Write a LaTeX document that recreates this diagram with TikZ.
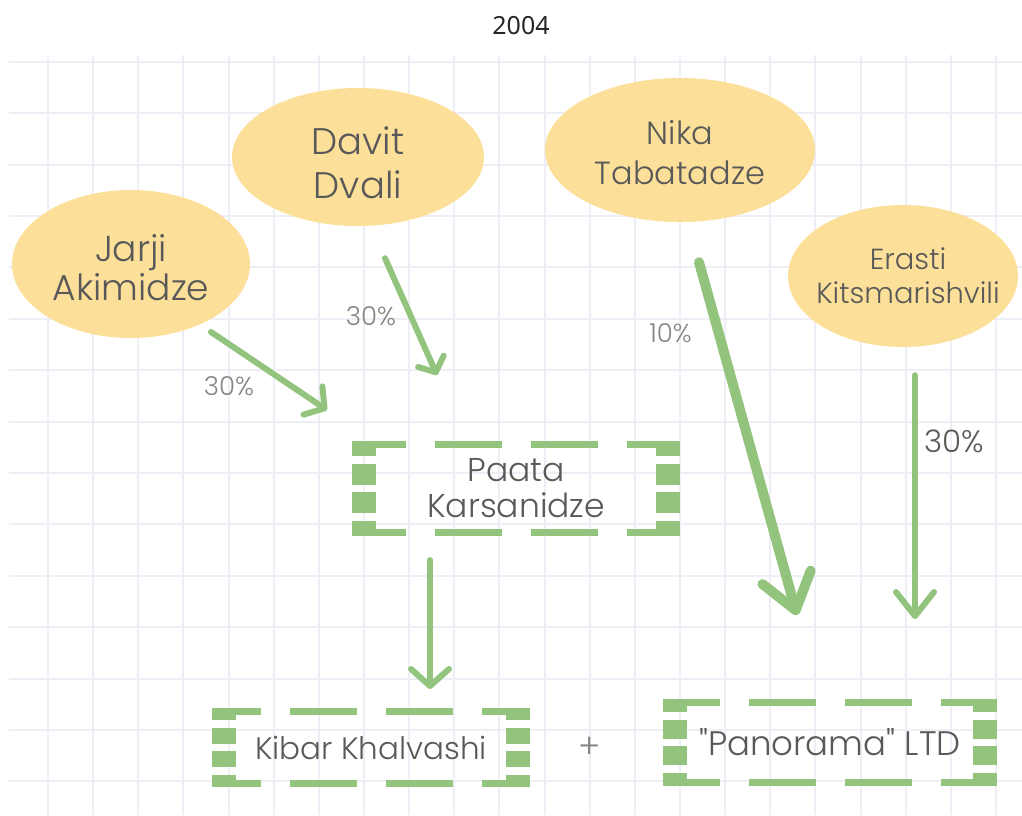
\documentclass[tikz,border=0pt]{standalone}
\usepackage{fontspec}
\IfFontExistsTF{Poppins Light}{\setmainfont{Poppins Light}}{%
  \IfFontExistsTF{Poppins-Light}{\setmainfont{Poppins-Light}}{\setmainfont{Poppins}}}
\newfontfamily\titlefont{Noto Sans}
\usetikzlibrary{arrows.meta, shapes.geometric}

\definecolor{petal}{HTML}{FCDF99}
\definecolor{leaf}{HTML}{93C47D}
\definecolor{gridline}{HTML}{EEEEF7}
\definecolor{ink}{HTML}{595959}
\definecolor{softink}{HTML}{858585}

\tikzset{
  person/.style={ellipse, fill=petal, inner sep=0pt},
  names/.style={align=center, text=ink, inner sep=0pt},
  holder/.style={rectangle, inner sep=0pt, outer sep=0pt, align=center, text=ink},
  frameh/.style={draw=leaf, line width=7pt, dash pattern=on 67pt off 29pt, dash phase=81.5pt},
  framev/.style={draw=leaf, line width=24pt},
  flow/.style={draw=leaf, line width=6pt, line cap=round},
  vhead/.style 2 args={-{Straight Barb[round, length=#1, width=#2]}},
  pct/.style={text=softink, inner sep=0pt, font=\fontsize{26}{28}\selectfont},
}

% dashed green frame round a holder node; #2 = dash length of the sides
\newcommand\greenframe[2]{%
  \pgfmathsetmacro\vphase{#2+3.75}
  \draw[frameh] ([yshift=-3.5pt]#1.north) -- ([yshift=-3.5pt]#1.north west);
  \draw[frameh] ([yshift=-3.5pt]#1.north) -- ([yshift=-3.5pt]#1.north east);
  \draw[frameh] ([yshift=3.5pt]#1.south) -- ([yshift=3.5pt]#1.south west);
  \draw[frameh] ([yshift=3.5pt]#1.south) -- ([yshift=3.5pt]#1.south east);
  \draw[framev, dash pattern=on #2pt off 7.5pt, dash phase=\vphase pt] ([xshift=12pt]#1.west) -- ([xshift=12pt]#1.north west);
  \draw[framev, dash pattern=on #2pt off 7.5pt, dash phase=\vphase pt] ([xshift=12pt]#1.west) -- ([xshift=12pt]#1.south west);
  \draw[framev, dash pattern=on #2pt off 7.5pt, dash phase=\vphase pt] ([xshift=-12pt]#1.east) -- ([xshift=-12pt]#1.north east);
  \draw[framev, dash pattern=on #2pt off 7.5pt, dash phase=\vphase pt] ([xshift=-12pt]#1.east) -- ([xshift=-12pt]#1.south east);
}

\begin{document}
\begin{tikzpicture}[x=1pt, y=-1pt]
  \useasboundingbox (0,0) rectangle (1022,815);

  % squared paper
  \foreach \i in {0,...,21}
    \draw[gridline, line width=2pt] (48+45.14*\i, 55) -- (48+45.14*\i, 815);
  \foreach \j in {0,...,14}
    \draw[gridline, line width=2pt] (9, 61.7+51.4*\j) -- (1022, 61.7+51.4*\j);

  \node[font=\titlefont\fontsize{25}{28}\selectfont, text=black!85] (title) at (521,26) {2004};

  % owners
  \node[person, minimum width=238pt, minimum height=148pt,
        label={[names, yshift=-4pt, font=\fontsize{36}{39}\selectfont]center:Jarji\\Akimidze}] (jarji) at (131,264) {};
  \node[person, minimum width=252pt, minimum height=138pt,
        label={[names, yshift=-6pt, font=\fontsize{37}{44}\selectfont]center:Davit\\Dvali}] (davit) at (358,157) {};
  \node[person, minimum width=270pt, minimum height=144pt,
        label={[names, yshift=-3pt, font=\fontsize{32}{40}\selectfont]center:Nika\\Tabatadze}] (nika) at (680,150) {};
  \node[person, minimum width=230pt, minimum height=142pt,
        label={[names, xshift=5pt, font=\fontsize{29}{34}\selectfont]center:Erasti\\Kitsmarishvili}] (erasti) at (903,276) {};

  % holders
  \node[holder, minimum width=328pt, minimum height=95pt, font=\fontsize{33}{36}\selectfont] (paata) at (516,488.5) {Paata\\Karsanidze};
  \node[holder, minimum width=318pt, minimum height=79pt, font=\fontsize{31}{34}\selectfont] (kibar) at (371,747.5) {Kibar Khalvashi};
  \node[holder, minimum width=334pt, minimum height=87pt, font=\fontsize{34}{36}\selectfont] (panorama) at (830,742.5) {\textquotedbl Panorama\textquotedbl{} LTD};
  \node[text=softink, font=\fontsize{34}{36}\selectfont] (plus) at (590,748) {+};

  \greenframe{paata}{21}
  \greenframe{kibar}{16}
  \greenframe{panorama}{19}

  % shares
  \draw[flow, vhead={14pt}{34pt}] ([shift={(80,68)}]jarji.center) -- ([shift={(-25,-31)}]paata.north west)
    node[pct, midway, shift={(-40,15)}] {30\%};
  \draw[flow, vhead={12pt}{28pt}] ([shift={(27,32)}]davit.south) -- ([shift={(-79,-66)}]paata.north)
    node[pct, midway, shift={(-40,0)}] {30\%};
  \draw[flow, line width=10pt, vhead={34pt}{50pt}] ([shift={(19,40)}]nika.south) -- ([shift={(-33,-84)}]panorama.north)
    node[pct, pos=0.2, shift={(-48,0)}] {10\%};
  \draw[flow, vhead={24pt}{38pt}] ([shift={(12,28)}]erasti.south) -- ([shift={(85,-80)}]panorama.north)
    node[pct, pos=0.27, shift={(39,0)}, text=ink, font=\fontsize{31}{33}\selectfont] {30\%};
  \draw[flow, vhead={17pt}{38pt}] ([shift={(-86,24)}]paata.south) -- ([shift={(59,-19)}]kibar.north);
\end{tikzpicture}
\end{document}
